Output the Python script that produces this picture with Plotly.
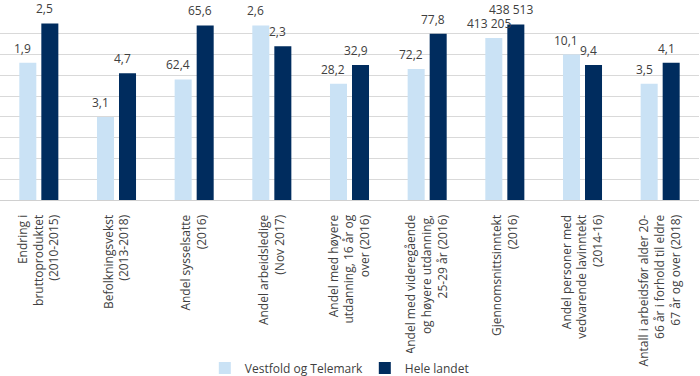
import plotly.graph_objects as go

categories = [
    "Endring i<br>bruttoproduktet<br>(2010-2015)",
    "Befolkningsvekst<br>(2013-2018)",
    "Andel sysselsatte<br>(2016)",
    "Andel arbeidsledige<br>(Nov 2017)",
    "Andel med høyere<br>utdanning, 16 år og<br>over (2016)",
    "Andel med videregående<br>og høyere utdanning,<br>25-29 år (2016)",
    "Gjennomsnittsinntekt<br>(2016)",
    "Andel personer med<br>vedvarende lavinntekt<br>(2014-16)",
    "Antall i arbeidsfør alder 20-<br>66 år i forhold til eldre<br>67 år og over (2018)",
]

series_names = ["Vestfold og Telemark", "Hele landet"]

# Value labels shown on the chart
vt_labels = ["1,9", "3,1", "62,4", "2,6", "28,2", "72,2", "413 205", "10,1", "3,5"]
hl_labels = ["2,5", "4,7", "65,6", "2,3", "32,9", "77,8", "438 513", "9,4", "4,1"]

# Bar heights as drawn (indexed scale)
vt_heights = [66, 40, 58, 84, 56, 63, 78, 70, 56]
hl_heights = [85, 61, 84, 74, 65, 80, 84.5, 65, 66]

colors = ["#cae2f5", "#002c5e"]
text_color = "#404040"
font_family = "Open Sans"

fig = go.Figure()
for name, h, col in zip(series_names, [vt_heights, hl_heights], colors):
    fig.add_trace(go.Bar(x=list(range(len(categories))), y=h, name=name,
                         marker=dict(color=col, line=dict(width=0)),
                         hoverinfo="skip"))

annotations = []
for i in range(len(categories)):
    for off, h, lab in [(-0.142, vt_heights[i], vt_labels[i]), (0.142, hl_heights[i], hl_labels[i])]:
        annotations.append(dict(x=i + off, y=h, xref="x", yref="y", text=lab,
                                showarrow=False, yanchor="bottom", xanchor="center",
                                yshift=4, xshift=-5,
                                font=dict(size=12, color=text_color, family=font_family)))

fig.update_layout(
    width=700, height=376,
    margin=dict(l=0, r=1, t=13, b=176, autoexpand=False),
    paper_bgcolor="white", plot_bgcolor="white",
    barmode="group", bargap=0.433, bargroupgap=0.227,
    font=dict(family=font_family, size=12, color=text_color),
    annotations=annotations,
    showlegend=True,
    hovermode=False,
    legend=dict(orientation="h", x=0.293, xanchor="left", y=-0.898, yanchor="middle",
                entrywidth=115, entrywidthmode="pixels",
                font=dict(size=12, color=text_color, family=font_family),
                itemclick=False, itemdoubleclick=False),
    xaxis=dict(tickmode="array", tickvals=list(range(len(categories))), ticktext=categories,
               tickangle=-90, range=[-0.5, len(categories) - 0.5],
               showline=True, linecolor="#d0d0d0", linewidth=1,
               ticks="outside", ticklen=9, tickcolor="rgba(0,0,0,0)",
               showgrid=False, automargin=False,
               tickfont=dict(size=12, color=text_color, family=font_family)),
    yaxis=dict(range=[0, 90], dtick=10, showgrid=True, gridcolor="#d9d9d9", gridwidth=1,
               showticklabels=False, zeroline=False, automargin=False),
)

fig.write_html("out.html", config={"displayModeBar": False},
               post_script="document.body.style.margin='0';document.body.style.overflow='hidden';")
